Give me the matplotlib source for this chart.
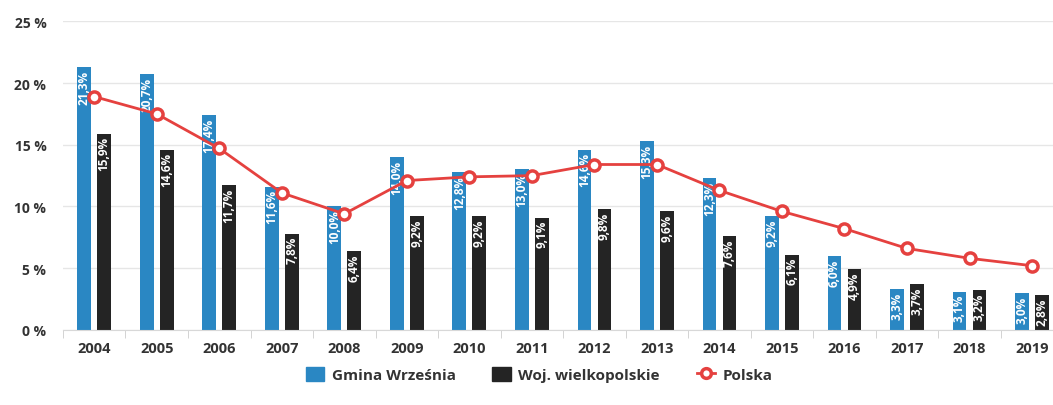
import numpy as np
import matplotlib.pyplot as plt
from matplotlib.lines import Line2D
from matplotlib.patches import Patch

plt.rcParams['font.family'] = ['Open Sans', 'DejaVu Sans']

years = ['2004', '2005', '2006', '2007', '2008', '2009', '2010', '2011',
         '2012', '2013', '2014', '2015', '2016', '2017', '2018', '2019']
gmina = [21.3, 20.7, 17.4, 11.6, 10.0, 14.0, 12.8, 13.0,
         14.6, 15.3, 12.3, 9.2, 6.0, 3.3, 3.1, 3.0]
woj = [15.9, 14.6, 11.7, 7.8, 6.4, 9.2, 9.2, 9.1,
       9.8, 9.6, 7.6, 6.1, 4.9, 3.7, 3.2, 2.8]
polska = [18.9, 17.5, 14.7, 11.1, 9.4, 12.1, 12.4, 12.5,
          13.4, 13.4, 11.3, 9.6, 8.2, 6.6, 5.8, 5.2]

blue = '#2a87c3'
dark = '#242424'
red = '#e5413f'

fig = plt.figure(figsize=(10.53, 4.06), dpi=100)
# plot area runs slightly past the right edge, like the cropped original
ax = fig.add_axes([0.0598, 0.185, 0.95, 0.76])

x = np.arange(len(years))
w = 0.22
off = 0.16
ax.bar(x - off, gmina, w, color=blue, zorder=2)
ax.bar(x + off, woj, w, color=dark, zorder=2)

def fmt(v):
    return f'{v:.1f}%'.replace('.', ',')

for i in range(len(years)):
    ax.text(x[i] - off, gmina[i] - 0.2, fmt(gmina[i]), rotation=90, ha='center', va='top',
            color='white', fontsize=8.5, fontweight='bold', zorder=4)
    ax.text(x[i] + off, woj[i] - 0.2, fmt(woj[i]), rotation=90, ha='center', va='top',
            color='white', fontsize=8.5, fontweight='bold', zorder=4)

ax.plot(x, polska, color=red, lw=2, marker='o', ms=8, mfc='white', mec=red, mew=2.5, zorder=5)

ax.set_ylim(0, 25)
ax.set_xlim(-0.5, len(years) - 0.5)
ax.set_yticks([0, 5, 10, 15, 20, 25])
ax.set_yticklabels(['0 %', '5 %', '10 %', '15 %', '20 %', '25 %'], fontsize=10, color='#333333', fontweight='bold')
ax.set_xticks(x)
ax.set_xticklabels(years, fontsize=10.5, color='#333333', fontweight='bold')
ax.set_xticks(np.arange(-0.5, len(years)), minor=True)
ax.tick_params(axis='x', which='major', length=0, pad=8)
ax.tick_params(axis='x', which='minor', length=6, color='#cccccc')
ax.tick_params(axis='y', length=0, pad=12)
ax.grid(axis='y', color='#e6e6e6', lw=1, zorder=0)
for s in ['top', 'right', 'left']:
    ax.spines[s].set_visible(False)
ax.spines['bottom'].set_color('#d8d8d8')

handles = [Patch(color=blue, label='Gmina Września'),
           Patch(color=dark, label='Woj. wielkopolskie'),
           Line2D([0], [0], color=red, lw=2, marker='o', ms=7, mfc='white', mec=red, mew=2.5, label='Polska')]
leg = fig.legend(handles=handles, loc='center', bbox_to_anchor=(0.512, 0.075), ncol=3, frameon=False,
                 fontsize=11, handlelength=1.2, handleheight=1.0, columnspacing=2.4, handletextpad=0.5)
for t in leg.get_texts():
    t.set_fontweight('bold')
    t.set_color('#333333')

fig.savefig('out.png', dpi=100, facecolor='white')
